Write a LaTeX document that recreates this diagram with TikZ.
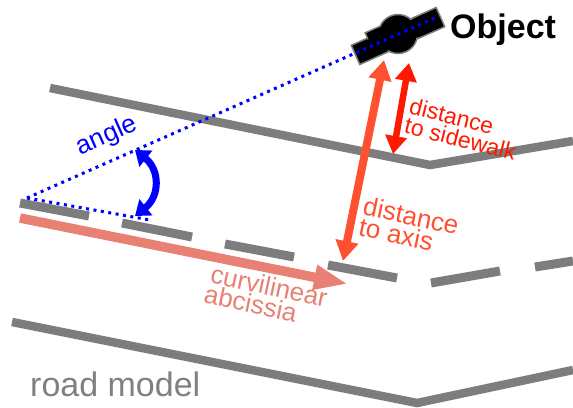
\documentclass[tikz,border=0pt]{standalone}
\usepackage{fontspec}
\setmainfont{Liberation Sans}
\usetikzlibrary{arrows.meta}
\definecolor{roadgray}{RGB}{125, 125, 125}
\definecolor{axisred}{RGB}{255, 80, 50}
\definecolor{sidered}{RGB}{255, 25, 0}
\definecolor{abspink}{RGB}{232, 128, 116}
\tikzset{
	road/.style={draw=roadgray, line width=8.5pt},
	lane/.style={draw=roadgray, line width=9pt},
	objpart/.style={fill=black, draw=gray, line width=1.5pt, rotate=24, inner sep=0pt},
	sight/.style={draw=blue, line width=3pt, dash pattern=on 3pt off 4.5pt},
	label/.style={font=\fontsize{26}{21}\selectfont, align=left, inner sep=0pt},
	smalllabel/.style={font=\fontsize{23}{20}\selectfont, align=left, inner sep=0pt}
}
\begin{document}
\begin{tikzpicture}[x=1pt, y=-1pt]
		\useasboundingbox (0, 0) rectangle (573, 407);
		
		% Strassen
		\draw[road] (50, 88) -- (430, 165) -- (573, 141);
		\draw[road] (12, 322) -- (417, 403) -- (573, 370);
		
		% Mittellinie
		\draw[lane] (20, 203) -- (89, 216);
		\draw[lane] (122, 223) -- (192, 237);
		\draw[lane] (225, 244) -- (294, 257);
		\draw[lane] (328, 265) -- (397, 278);
		\draw[lane] (431, 283) -- (500, 271);
		\draw[lane] (535, 267) -- (573, 261);
		
		% Objekt
		\node[objpart, minimum width=93pt, minimum height=21pt] (bar) at (398, 36) {};
		\node[objpart, minimum width=28pt, minimum height=15pt] (step) at (381, 34) {};
		\node[objpart, circle, minimum size=39pt] (body) at (398, 34) {};
		\node[fill=black, rotate=24, minimum width=90pt, minimum height=18pt, inner sep=0pt] (barcore) at (398, 36) {};
		\node[fill=black, rotate=24, minimum width=26pt, minimum height=13pt, inner sep=0pt] (stepcore) at (381, 34) {};
		\node[anchor=west, font=\fontsize{34}{34}\selectfont\bfseries, inner sep=0pt] (object) at (450, 30) {Object};
		
		% Winkel
		\coordinate (apex) at (27, 198);
		\coordinate (sightend) at (437, 17);
		\coordinate (laneend) at (150, 220);
		\coordinate (angletop) at (135, 150);
		\coordinate (anglebot) at (135, 216);
		\draw[sight] (apex) -- (sightend);
		\draw[sight] (apex) -- (laneend);
		\draw[blue, line width=7pt, {Triangle[length=14pt, width=20pt]}-{Triangle[length=14pt, width=20pt]}] (angletop) .. controls (160, 170) and (160, 196) .. (anglebot);
		\node[label, text=blue, rotate=24] (anglelabel) at (107, 136) {angle};
		
		% Abstaende
		\coordinate (axistop) at (384, 60);
		\coordinate (axisbot) at (343, 261);
		\coordinate (sidetop) at (409, 63);
		\coordinate (sidebot) at (393, 154);
		\draw[axisred, line width=8pt, {Triangle[length=20pt, width=22pt]}-{Triangle[length=20pt, width=22pt]}] (axistop) -- (axisbot);
		\draw[sidered, line width=6.5pt, {Triangle[length=18pt, width=21pt]}-{Triangle[length=18pt, width=21pt]}] (sidetop) -- (sidebot);
		\node[smalllabel, text=sidered, rotate=-14] (sidelabel) at (463, 129) {distance\\to sidewalk};
		\node[label, text=axisred, rotate=-12] (axislabel) at (409, 226) {distance\\to axis};
		
		% Kurvenlaenge
		\coordinate (absstart) at (20, 218);
		\coordinate (absend) at (348, 284);
		\draw[abspink, line width=9.5pt, -{Triangle[length=34pt, width=23pt]}] (absstart) -- (absend);
		\node[label, text=abspink, rotate=-12] (abslabel) at (266, 296) {\hspace*{2pt}curvilinear\\abcissia};
		
		% Titel
		\node[anchor=west, text=gray, font=\fontsize{34}{34}\selectfont, inner sep=0pt] (roadlabel) at (30, 384) {road model};
		
	\end{tikzpicture}
\end{document}
